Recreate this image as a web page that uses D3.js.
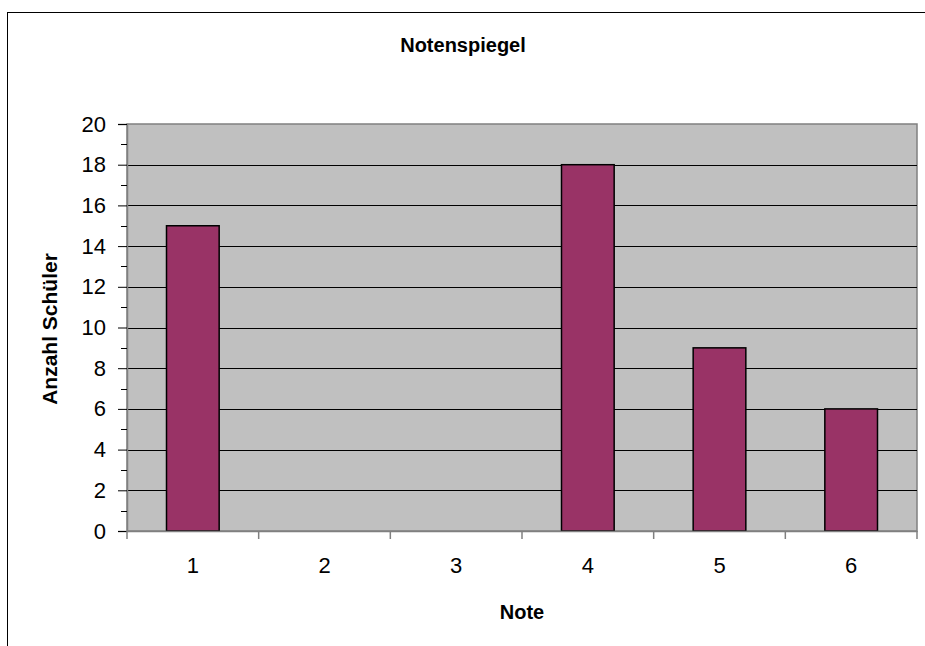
<!DOCTYPE html>
<html>
<head>
<meta charset="utf-8">
<script src="https://cdn.jsdelivr.net/npm/d3@7"></script>
<style>
  body { margin: 0; background: #fff; }
  text { font-family: "Liberation Sans", Arial, sans-serif; }
</style>
</head>
<body>
<div id="chart"></div>
<script>
// Notenspiegel data
const noten = ["1", "2", "3", "4", "5", "6"];
const anzahl = [15, 0, 0, 18, 9, 6];
const yTicks = [0, 2, 4, 6, 8, 10, 12, 14, 16, 18, 20];

const width = 925, height = 646;
const plot = { left: 127, top: 124, right: 917, bottom: 531 };

const svg = d3.select("#chart").append("svg")
  .attr("width", width)
  .attr("height", height);

// outer chart frame
svg.append("rect")
  .attr("x", 7.5).attr("y", 12.5)
  .attr("width", 940).attr("height", 660)
  .attr("fill", "#fff")
  .attr("stroke", "#000")
  .attr("stroke-width", 1);

const x = d3.scaleBand()
  .domain(noten)
  .range([plot.left, plot.right]);

const y = d3.scaleLinear()
  .domain([0, 20])
  .range([plot.bottom, plot.top]);

// plot background
svg.append("rect")
  .attr("x", plot.left).attr("y", plot.top)
  .attr("width", plot.right - plot.left)
  .attr("height", plot.bottom - plot.top)
  .attr("fill", "#c0c0c0")
  .attr("stroke", "#808080")
  .attr("stroke-width", 1.5);

// gridlines
svg.append("g")
  .selectAll("line")
  .data(yTicks.filter(d => d > 0 && d < 20))
  .enter()
  .append("line")
  .attr("x1", plot.left).attr("x2", plot.right)
  .attr("y1", d => Math.round(y(d)) + 0.5)
  .attr("y2", d => Math.round(y(d)) + 0.5)
  .attr("stroke", "#000")
  .attr("stroke-width", 1);

// bars
const bw = x.bandwidth() * 0.4;
svg.append("g")
  .selectAll("rect")
  .data(noten.map((n, i) => ({ n: n, v: anzahl[i] })).filter(d => d.v > 0))
  .enter()
  .append("rect")
  .attr("x", d => x(d.n) + (x.bandwidth() - bw) / 2)
  .attr("y", d => y(d.v))
  .attr("width", bw)
  .attr("height", d => y(0) - y(d.v))
  .attr("fill", "#993366")
  .attr("stroke", "#000")
  .attr("stroke-width", 1.5);

// y axis
const yAxis = d3.axisLeft(y)
  .tickValues(yTicks)
  .tickSize(9)
  .tickPadding(12)
  .tickFormat(d3.format("d"));

const gy = svg.append("g")
  .attr("transform", `translate(${plot.left},0)`)
  .call(yAxis);
gy.select(".domain").attr("stroke", "#808080").attr("stroke-width", 1.5);
gy.selectAll(".tick line").attr("stroke", "#000");
gy.selectAll(".tick text")
  .attr("font-size", 22)
  .attr("font-family", "Liberation Sans, Arial, sans-serif")
  .attr("fill", "#000");

// minor ticks
svg.append("g")
  .selectAll("line")
  .data(d3.range(1, 20, 2))
  .enter()
  .append("line")
  .attr("x1", plot.left - 6).attr("x2", plot.left)
  .attr("y1", d => Math.round(y(d)) + 0.5)
  .attr("y2", d => Math.round(y(d)) + 0.5)
  .attr("stroke", "#000");

// x axis
const xAxis = d3.axisBottom(x).tickSize(0).tickPadding(26);
const gx = svg.append("g")
  .attr("transform", `translate(0,${plot.bottom})`)
  .call(xAxis);
gx.select(".domain").attr("stroke", "#808080").attr("stroke-width", 1.5);
gx.selectAll(".tick text")
  .attr("font-size", 22)
  .attr("font-family", "Liberation Sans, Arial, sans-serif")
  .attr("fill", "#000");

// category separators
svg.append("g")
  .selectAll("line")
  .data(noten.concat(["end"]))
  .enter()
  .append("line")
  .attr("x1", (d, i) => plot.left + i * x.bandwidth())
  .attr("x2", (d, i) => plot.left + i * x.bandwidth())
  .attr("y1", plot.bottom)
  .attr("y2", plot.bottom + 8)
  .attr("stroke", "#808080")
  .attr("stroke-width", 1.5);

// title and labels
svg.append("text")
  .attr("x", 463).attr("y", 52)
  .attr("text-anchor", "middle")
  .attr("font-size", 20).attr("font-weight", "bold")
  .text("Notenspiegel");

svg.append("text")
  .attr("x", 522).attr("y", 619)
  .attr("text-anchor", "middle")
  .attr("font-size", 20).attr("font-weight", "bold")
  .text("Note");

svg.append("text")
  .attr("transform", "translate(57,329) rotate(-90)")
  .attr("text-anchor", "middle")
  .attr("font-size", 21).attr("font-weight", "bold")
  .text("Anzahl Schüler");
</script>
</body>
</html>
